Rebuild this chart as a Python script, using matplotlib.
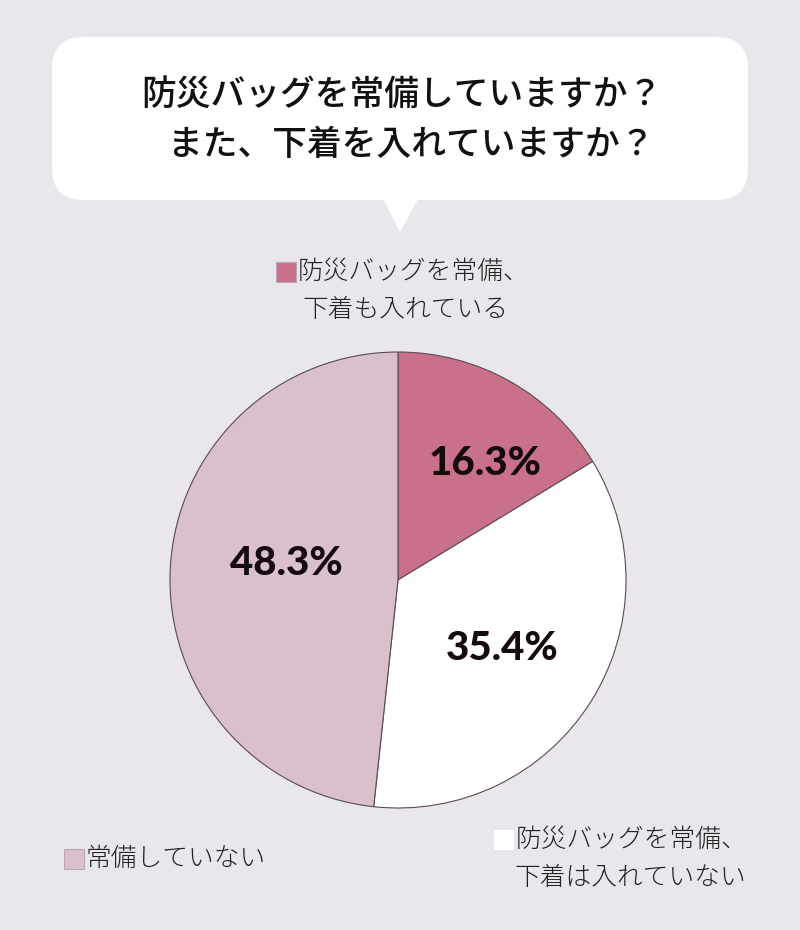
import numpy as np
import matplotlib
matplotlib.use("Agg")
import matplotlib.pyplot as plt
from matplotlib.patches import FancyBboxPatch, Polygon, Rectangle

plt.rcParams['font.family'] = ['Noto Sans CJK JP', 'DejaVu Sans']

title_lines = ["防災バッグを常備していますか？", "また、下着を入れていますか？"]
categories = ["防災バッグを常備、\n下着も入れている", "防災バッグを常備、\n下着は入れていない", "常備していない"]
values = [16.3, 35.4, 48.3]
colors = ["#c97189", "#ffffff", "#d9c0cc"]
label_dist = [0.64, 0.54, 0.50]
label_shift = [-7, -1, -6]  # degrees, nudges label off the slice middle

W, H = 800, 930
fig = plt.figure(figsize=(W / 100, H / 100), dpi=100)
fig.patch.set_facecolor("#e9e7eb")
ax = fig.add_axes([0, 0, 1, 1])

# speech bubble
bubble = FancyBboxPatch((52, H - 200), 696, 163, boxstyle="round,pad=0,rounding_size=32",
                        fc="white", ec="none")
ax.add_patch(bubble)
ax.add_patch(Polygon([(383, H - 199), (418, H - 199), (400, H - 232)], closed=True,
                     fc="white", ec="none"))
ax.text(402, H - 95, title_lines[0], ha="center", va="center", fontsize=25,
        color="#111111", fontweight="medium")
ax.text(411, H - 145, title_lines[1], ha="center", va="center", fontsize=25,
        color="#111111", fontweight="medium")

# pie
center = (398, H - 580)
radius = 228
wedges, _ = ax.pie(values, colors=colors, startangle=90, counterclock=False,
                   center=center, radius=radius, frame=True,
                   wedgeprops=dict(edgecolor="#5a4a52", linewidth=0.8))
ax.set_xlim(0, W)
ax.set_ylim(0, H)
ax.set_aspect("equal")
ax.axis("off")

for w, v, d, s in zip(wedges, values, label_dist, label_shift):
    ang = np.deg2rad((w.theta1 + w.theta2) / 2 + s)
    x = center[0] + radius * d * np.cos(ang)
    y = center[1] + radius * d * np.sin(ang)
    ax.text(x + 1, y - 1, f"{v:.1f}%", ha="center", va="center", fontsize=29,
            fontfamily="Lato", fontweight="black", color="#140a10")

# legend entries
legend_pos = [(276, H - 272), (494, H - 840), (64, H - 859)]
for (lx, ly), c, name in zip(legend_pos, colors, categories):
    ax.add_patch(Rectangle((lx, ly - 10), 20, 20, fc=c,
                           ec="#b9a9b2" if c != "#ffffff" else "none", lw=0.8))
    lines = name.split("\n")
    ax.text(lx + 22, ly, lines[0], ha="left", va="center", fontsize=18.5,
            fontweight="light", color="#222222")
    if len(lines) > 1:
        ax.text(lx + 26 if lx < 300 else lx + 20, ly - 38, lines[1], ha="left", va="center",
                fontsize=18.5, fontweight="light", color="#222222")

fig.savefig("out.png", dpi=100, facecolor=fig.get_facecolor())
